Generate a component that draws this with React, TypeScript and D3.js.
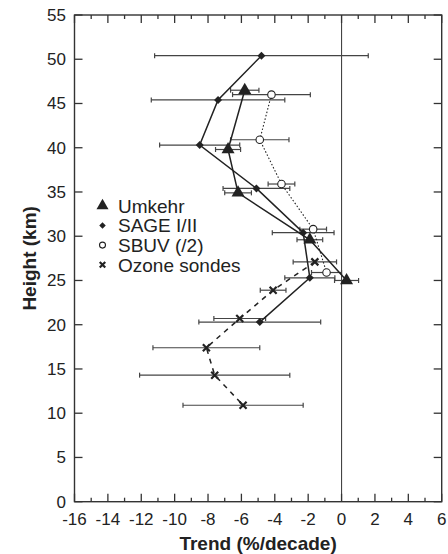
import React from 'react';
import * as d3 from 'd3';

// Umkehr (triangles)
const umkehrHeight = [46.5, 39.8, 34.9, 29.6, 25.0];
const umkehrTrend = [-5.8, -6.8, -6.2, -1.9, 0.3];
const umkehrErr = [0.85, 0.75, 0.8, 0.77, 0.72];

// SAGE I/II (diamonds)
const sageHeight = [50.4, 45.4, 40.3, 35.4, 30.4, 25.3, 20.3];
const sageTrend = [-4.8, -7.4, -8.5, -5.1, -2.3, -1.9, -4.9];
const sageErr = [6.4, 4.0, 2.4, 2.0, 1.85, 1.5, 3.65];

// SBUV (/2) (open circles)
const sbuvHeight = [46.0, 40.9, 35.9, 30.8, 25.9];
const sbuvTrend = [-4.2, -4.9, -3.6, -1.7, -0.9];
const sbuvErr = [2.33, 1.75, 0.8, 0.8, 0.9];

// Ozone sondes (crosses)
const sondeHeight = [27.1, 23.9, 20.7, 17.4, 14.3, 10.9];
const sondeTrend = [-1.6, -4.1, -6.1, -8.1, -7.6, -5.9];
const sondeErr = [1.3, 0.77, 1.55, 3.2, 4.5, 3.6];

const legendLabels = ['Umkehr', 'SAGE I/II', 'SBUV (/2)', 'Ozone sondes'];
const xTicks = d3.range(-16, 7, 2);
const xMinor = d3.range(-15, 6, 2);
const yTicks = d3.range(0, 56, 5);

const font = 'Liberation Sans, Arial, Helvetica, sans-serif';
const ink = '#222';

const marker = (kind: string, s: number) => {
  if (kind === 'tri') return d3.symbol(d3.symbolTriangle, s * s * 0.433)();
  if (kind === 'dia') return d3.symbol(d3.symbolSquare, s * s * 0.5)();
  if (kind === 'x') return `M${-s / 2},${-s / 2}L${s / 2},${s / 2}M${-s / 2},${s / 2}L${s / 2},${-s / 2}`;
  return d3.symbol(d3.symbolCircle, Math.PI * (s / 2) * (s / 2))();
};

const Marker = ({ kind, cx, cy, s }: { kind: string; cx: number; cy: number; s: number }) => {
  const d = marker(kind, s) as string;
  if (kind === 'x')
    return <path d={d} transform={`translate(${cx},${cy})`} stroke={ink} strokeWidth={2.2} fill="none" />;
  if (kind === 'circ')
    return <path d={d} transform={`translate(${cx},${cy})`} stroke={ink} strokeWidth={1.1} fill="#fff" />;
  const rot = kind === 'dia' ? ' rotate(45)' : '';
  return <path d={d} transform={`translate(${cx},${cy})${rot}`} fill={ink} />;
};

export default function App() {
  const x = d3.scaleLinear().domain([-16, 6]).range([74.5, 441.7]);
  const y = d3.scaleLinear().domain([0, 55]).range([501.7, 15]);
  const [x0, x1] = x.range();
  const [y0, y1] = y.range();

  const series = [
    { h: umkehrHeight, t: umkehrTrend, e: umkehrErr, kind: 'tri', size: 13, dash: undefined },
    { h: sageHeight, t: sageTrend, e: sageErr, kind: 'dia', size: 8, dash: undefined },
    { h: sbuvHeight, t: sbuvTrend, e: sbuvErr, kind: 'circ', size: 7.5, dash: '1.5 2' },
    { h: sondeHeight, t: sondeTrend, e: sondeErr, kind: 'x', size: 7, dash: '5 5' },
  ];
  const legendSize = [12, 6.5, 6, 5.5];

  const line = d3
    .line<number>()
    .x((d) => x(d));

  return (
    <svg width={448} height={554} style={{ position: 'absolute', left: 0, top: 0 }} fontFamily={font}>
      <rect width={448} height={554} fill="#fff" />

      {/* zero line */}
      <line x1={x(0)} x2={x(0)} y1={y0} y2={y1} stroke="#444" strokeWidth={1.1} />

      {/* error bars */}
      {series.map((s, si) =>
        s.h.map((h, i) => {
          const lo = x(s.t[i] - s.e[i]);
          const hi = x(s.t[i] + s.e[i]);
          const yy = y(h);
          return (
            <g key={`e${si}-${i}`} stroke="#444" strokeWidth={1.2}>
              <line x1={lo} x2={hi} y1={yy} y2={yy} />
              <line x1={lo} x2={lo} y1={yy - 2.5} y2={yy + 2.5} />
              <line x1={hi} x2={hi} y1={yy - 2.5} y2={yy + 2.5} />
            </g>
          );
        })
      )}

      {/* connecting lines */}
      {series.map((s, si) => {
        const path = d3
          .line<number>()
          .x((_, i) => x(s.t[i]))
          .y((d) => y(d))(s.h);
        return (
          <path
            key={`l${si}`}
            d={path as string}
            fill="none"
            stroke={ink}
            strokeWidth={si === 2 ? 1.1 : 1.5}
            strokeDasharray={s.dash}
          />
        );
      })}

      {/* markers */}
      {series.map((s, si) =>
        s.h.map((h, i) => <Marker key={`m${si}-${i}`} kind={s.kind} cx={x(s.t[i])} cy={y(h)} s={s.size} />)
      )}

      {/* frame */}
      <rect x={x0} y={y1} width={x1 - x0} height={y0 - y1} fill="none" stroke="#333" strokeWidth={1.4} />

      {/* x ticks */}
      {xTicks.map((t) => (
        <g key={`xt${t}`} stroke="#333" strokeWidth={1.3}>
          <line x1={x(t)} x2={x(t)} y1={y0} y2={y0 - 8} />
          <line x1={x(t)} x2={x(t)} y1={y1} y2={y1 + 8} />
        </g>
      ))}
      {xMinor.map((t) => (
        <g key={`xm${t}`} stroke="#333" strokeWidth={1.3}>
          <line x1={x(t)} x2={x(t)} y1={y0} y2={y0 - 4} />
          <line x1={x(t)} x2={x(t)} y1={y1} y2={y1 + 4} />
        </g>
      ))}
      {xTicks.map((t) => (
        <text key={`xl${t}`} x={x(t)} y={525} textAnchor="middle" fontSize={17} fill={ink}>
          {t < 0 ? `-${-t}` : `${t}`}
        </text>
      ))}

      {/* y ticks */}
      {yTicks.map((t) => (
        <g key={`yt${t}`} stroke="#333" strokeWidth={1.3}>
          <line x1={x0} x2={x0 + 8} y1={y(t)} y2={y(t)} />
          <line x1={x1} x2={x1 - 8} y1={y(t)} y2={y(t)} />
        </g>
      ))}
      {yTicks.map((t) => (
        <text key={`yl${t}`} x={66} y={y(t) + 6} textAnchor="end" fontSize={17} fill={ink}>
          {t}
        </text>
      ))}

      {/* axis titles */}
      <text x={(x0 + x1) / 2} y={550} textAnchor="middle" fontSize={19} fontWeight="bold" fill={ink}>
        Trend (%/decade)
      </text>
      <text
        transform={`translate(36,${(y0 + y1) / 2}) rotate(-90)`}
        textAnchor="middle"
        fontSize={19}
        fontWeight="bold"
        fill={ink}
      >
        Height (km)
      </text>

      {/* legend */}
      {legendLabels.map((lab, i) => {
        const base = 212.7 + i * 19.7;
        return (
          <g key={`lg${i}`}>
            <Marker kind={series[i].kind} cx={102.5} cy={base - 7} s={legendSize[i]} />
            <text x={118} y={base} fontSize={19} fill={ink}>
              {lab}
            </text>
          </g>
        );
      })}
    </svg>
  );
}
